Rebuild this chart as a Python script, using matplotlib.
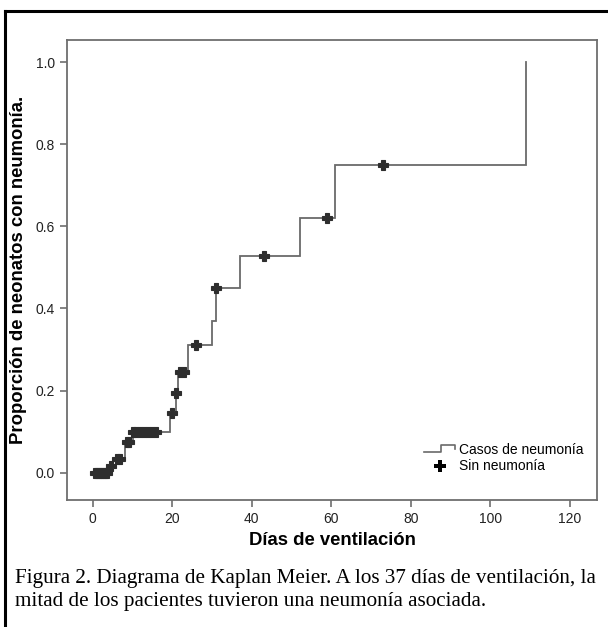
"""Kaplan-Meier curve: proporción de neonatos con neumonía vs días de ventilación."""

import matplotlib.pyplot as plt
from matplotlib.legend_handler import HandlerBase
from matplotlib.lines import Line2D

LINE_GRAY = "#6a6a6a"
MARK_DARK = "#2e2e2e"
SPINE_GRAY = "#6e6e6e"

# step curve (day of event, cumulative proportion after the step)
step_days = [0, 4, 5, 8, 10, 19.5, 21, 21.5, 24, 30, 31, 37, 52, 61, 109]
step_props = [0.0, 0.017, 0.034, 0.075, 0.10, 0.146, 0.195, 0.246, 0.31,
              0.37, 0.45, 0.527, 0.62, 0.75, 1.0]

# censored cases (sin neumonía)
cens_days = [0.5, 1, 1.5, 2, 2.5, 3, 3.5, 4.5, 6, 6.8, 8.5, 9,
             10, 11, 12, 13, 14, 15, 16, 20, 21, 22, 23, 26, 31, 43, 59, 73]
cens_props = [0.0, 0.0, 0.0, 0.0, 0.0, 0.0, 0.0, 0.017, 0.034, 0.034, 0.075, 0.075,
              0.10, 0.10, 0.10, 0.10, 0.10, 0.10, 0.10, 0.146, 0.195, 0.246, 0.246,
              0.31, 0.45, 0.527, 0.62, 0.75]

CAPTION = ("Figura 2. Diagrama de Kaplan Meier. A los 37 días de ventilación, la\n"
           "mitad de los pacientes tuvieron una neumonía asociada.")


class StepHandler(HandlerBase):
    def create_artists(self, legend, orig_handle, xdescent, ydescent,
                       width, height, fontsize, trans):
        x0, x1 = -xdescent, -xdescent + width
        xm = x0 + width * 0.55
        y_lo, y_hi = -ydescent + height * 0.15, -ydescent + height * 0.85
        line = Line2D([x0, xm, xm, x1, x1], [y_lo, y_lo, y_hi, y_hi, y_hi - height * 0.35],
                      color=LINE_GRAY, lw=1.2, transform=trans)
        return [line]


def main() -> None:
    plt.rcParams["font.family"] = ["Liberation Sans", "DejaVu Sans"]
    fig = plt.figure(figsize=(6.08, 6.27), dpi=100)
    ax = fig.add_axes([0.110, 0.203, 0.872, 0.733])

    # cumulative incidence as a post-step line, ending at the final jump
    xs, ys = [step_days[0]], [step_props[0]]
    for d, p in zip(step_days[1:], step_props[1:]):
        xs += [d, d]
        ys += [ys[-1], p]
    ax.plot(xs, ys, color=LINE_GRAY, lw=1.3, solid_joinstyle="miter", zorder=2)
    ax.plot(cens_days, cens_props, linestyle="none", marker="P", markersize=6.5,
            color=MARK_DARK, markeredgecolor=MARK_DARK, markeredgewidth=0.8, zorder=3)

    ax.set_xlim(-6.5, 126.8)
    ax.set_ylim(-0.066, 1.054)
    ax.set_xticks(range(0, 121, 20))
    ax.set_yticks([0.0, 0.2, 0.4, 0.6, 0.8, 1.0])
    ax.set_yticklabels(["0.0", "0.2", "0.4", "0.6", "0.8", "1.0"])
    ax.tick_params(direction="out", length=5, width=1.2, color=SPINE_GRAY,
                   labelsize=10, labelcolor="#222222")
    for sp in ax.spines.values():
        sp.set_color(SPINE_GRAY)
        sp.set_linewidth(1.3)

    ax.set_xlabel("Días de ventilación", fontsize=13.3, fontweight="bold", labelpad=5)
    ax.set_ylabel("Proporción de neonatos con neumonía.", fontsize=13.3, fontweight="bold",
                  labelpad=6)

    h_line = Line2D([], [], color=LINE_GRAY)
    h_mark = Line2D([], [], linestyle="none", marker="P", markersize=9,
                    color="black", markeredgewidth=0)
    ax.legend([h_line, h_mark], ["Casos de neumonía", "Sin neumonía"],
              handler_map={h_line: StepHandler()}, loc="lower right",
              bbox_to_anchor=(0.998, 0.03), frameon=False, fontsize=10,
              handlelength=2.2, handletextpad=0.3, labelspacing=0.2)

    fig.text(0.025, 0.093, CAPTION, fontsize=15.2, family="Liberation Serif",
             ha="left", va="top", linespacing=1.3)

    # outer frame (left and top edges only)
    fig.add_artist(Line2D([0.009, 0.009], [0.0, 0.9825], color="black", lw=2.2,
                          transform=fig.transFigure, solid_capstyle="projecting"))
    fig.add_artist(Line2D([0.009, 1.0], [0.9825, 0.9825], color="black", lw=2.2,
                          transform=fig.transFigure, solid_capstyle="projecting"))

    fig.savefig("out.png", dpi=100, facecolor="white")
    plt.close(fig)


if __name__ == "__main__":
    main()
